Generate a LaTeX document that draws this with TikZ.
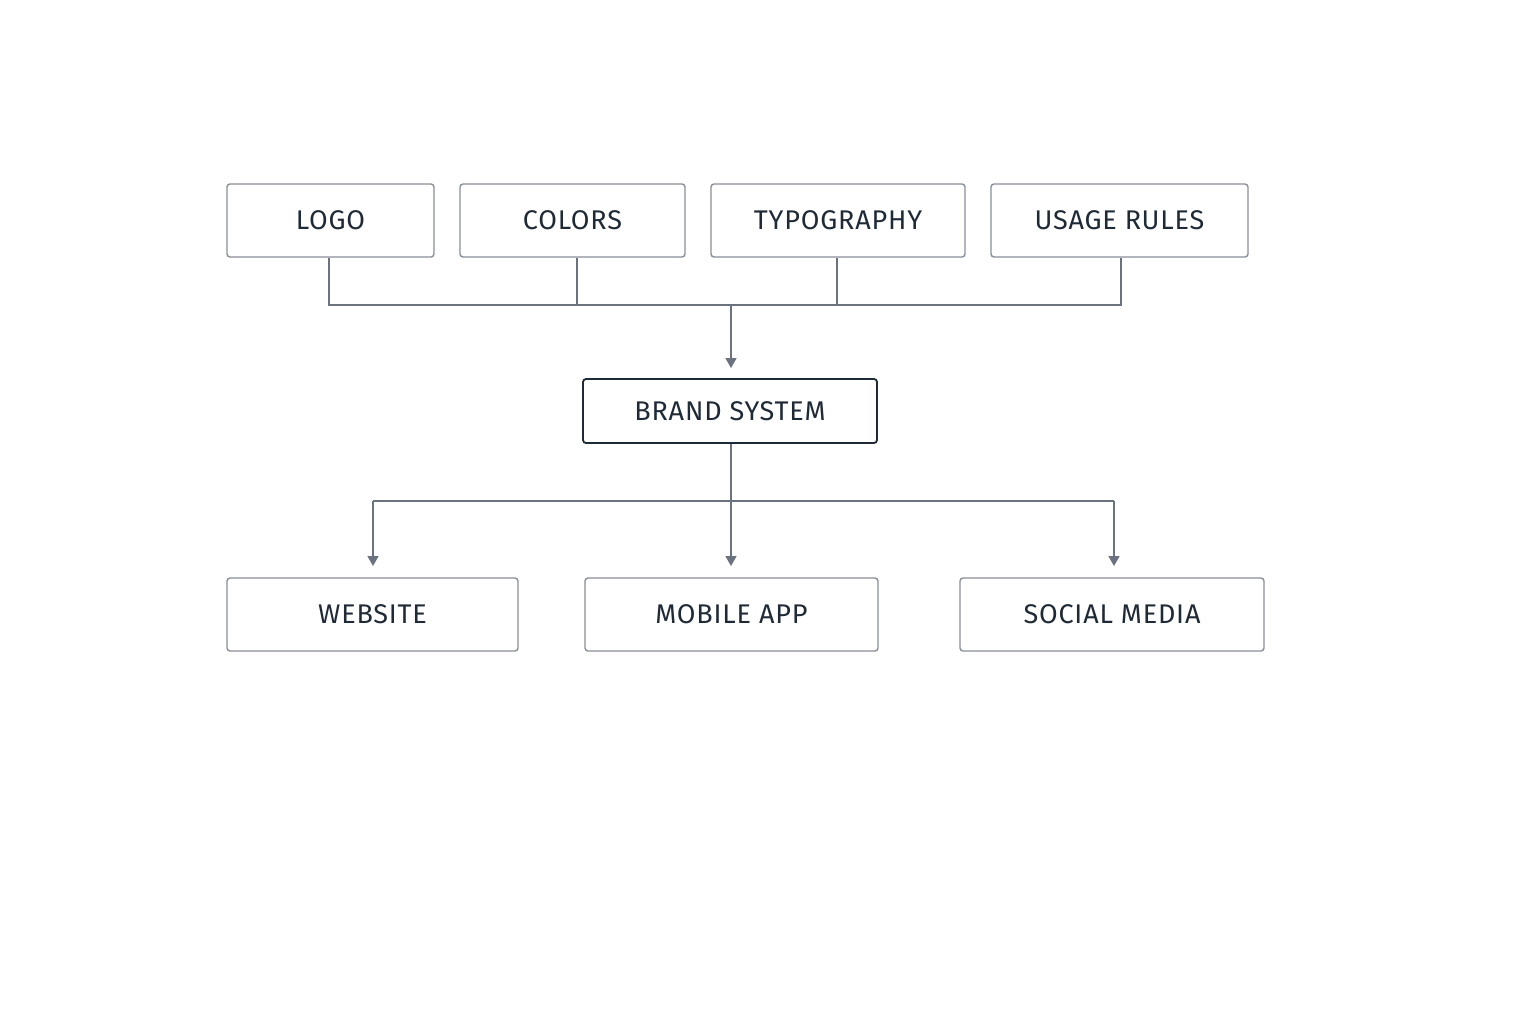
\documentclass[tikz,border=0pt]{standalone}
\usepackage{fontspec}
\setmainfont{Fira Sans}
\usetikzlibrary{arrows.meta}
\definecolor{txt}{HTML}{1F2A37}
\definecolor{ln}{HTML}{6B7280}
\definecolor{bd}{HTML}{8A9099}
\begin{document}
\begin{tikzpicture}[x=0.5pt,y=-0.5pt,
 box/.style={draw=bd,line width=0.7pt,rounded corners=1.5pt,minimum height=36.5pt,text=txt,font=\fontsize{13.5}{16}\selectfont\addfontfeature{LetterSpace=3}},
 wire/.style={draw=ln,line width=0.7pt},
 arr/.style={wire,-{Triangle[width=5.5pt,length=5pt]}}]
\fill[white] (0,0) rectangle (1536,1024);
\node[box,minimum width=103.5pt] (logo) at (330.5,220.5) {LOGO};
\node[box,minimum width=112.5pt] (colors) at (572.5,220.5) {COLORS};
\node[box,minimum width=127pt] (typo) at (838,220.5) {TYPOGRAPHY};
\node[box,minimum width=128.5pt] (usage) at (1119.5,220.5) {USAGE RULES};
\node[box,draw=txt,line width=0.9pt,minimum width=147pt,minimum height=32pt] (brand) at (730,411) {BRAND SYSTEM};
\node[box,minimum width=145.5pt] (web) at (372.5,614.5) {WEBSITE};
\node[box,minimum width=146.5pt] (mob) at (731.5,614.5) {MOBILE APP};
\node[box,minimum width=152pt] (soc) at (1112,614.5) {SOCIAL MEDIA};
\coordinate (b1) at (329,305); \coordinate (b2) at (577,305);
\coordinate (b3) at (837,305); \coordinate (b4) at (1121,305);
\coordinate (bm) at (731,305); \coordinate (bt) at (731,368);
\draw[wire] (logo.south -| b1) -- (b1) -- (b4) -- (usage.south -| b4);
\draw[wire] (colors.south -| b2) -- (b2);
\draw[wire] (typo.south -| b3) -- (b3);
\draw[arr] (bm) -- (bt);
\coordinate (c1) at (373,501); \coordinate (c2) at (1114,501); \coordinate (cm) at (731,501);
\draw[wire] (c1) -- (c2);
\draw[arr] (brand.south -| cm) -- (731,566);
\draw[arr] (c1) -- (373,566);
\draw[arr] (c2) -- (1114,566);
\end{tikzpicture}
\end{document}
